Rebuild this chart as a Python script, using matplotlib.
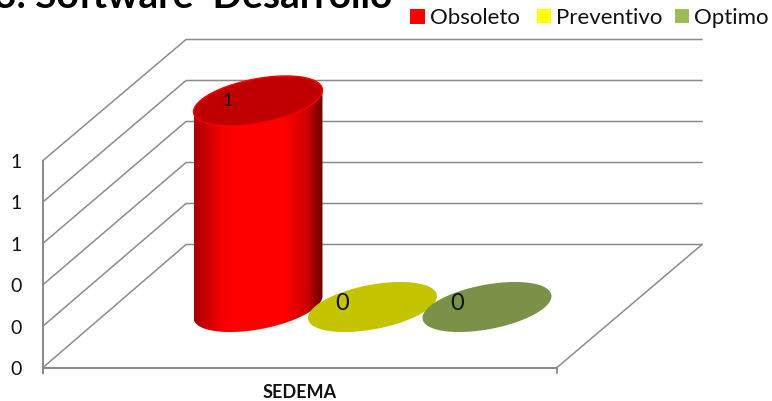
#!/usr/bin/env python3
import numpy as np
import matplotlib
matplotlib.use('Agg')
import matplotlib.pyplot as plt
from matplotlib.colors import LinearSegmentedColormap
from matplotlib.patches import Polygon, Rectangle

plt.rcParams['font.family'] = ['Lato', 'DejaVu Sans']

title = '3. Software  Desarrollo'
category = 'SEDEMA'
series = ['Obsoleto', 'Preventivo', 'Optimo']
values = [1, 0, 0]
value_labels = ['1', '0', '0']
tick_values = [0, 0.2, 0.4, 0.6, 0.8, 1.0]
tick_labels = ['0', '0', '0', '1', '1', '1']
colors = ['#ff0000', '#ffff00', '#9bbb59']
top_colors = ['#c00000', '#c4c400', '#7a9247']

# 3d frame, in pixels of the picture
x0, y0 = 43, 368.5
x_front = 557
x_back, x_right = 186, 702
y_back = 245.5
unit = 207      # pixels for value 1 on the front edge
unit_back = 205
bar_x = [258, 372.5, 487]
bar_y = 308
bar_unit = 206
a, b, theta = 65.5, 22.2, np.radians(10.8)
grid = '#8c8c8c'


def val_y(v):
    return y0 - v * unit


def ellipse(cx, cy, t):
    ex = a * np.cos(t)
    ey = b * np.sin(t)
    return (cx + ex * np.cos(theta) + ey * np.sin(theta),
            cy - ex * np.sin(theta) + ey * np.cos(theta))


fig = plt.figure(figsize=(7.72, 4.02), dpi=100)
ax = fig.add_axes([0, 0, 1, 1])

for v in tick_values:
    yb = y_back - v * unit_back
    ax.plot([x0, x_back, x_right], [val_y(v), yb, yb], color=grid, lw=1.1, zorder=1)
ax.plot([x_front, x_right], [y0, y_back], color=grid, lw=1.1, zorder=1)
ax.plot([x0, x0], [val_y(1), y0 + 5], color=grid, lw=1.5, zorder=2)
ax.plot([x0, x_front], [y0, y0], color=grid, lw=1.5, zorder=2)
ax.plot([x_front, x_front], [y0, y0 + 5], color=grid, lw=1.3, zorder=2)

for v, lab in zip(tick_values, tick_labels):
    ax.text(16.5, val_y(v) + 1, lab, ha='center', va='center', fontsize=14, color='#111111')

t = np.linspace(0, 2 * np.pi, 200)
red_cmap = LinearSegmentedColormap.from_list(
    'cyl', [(0, '#a80000'), (0.2, '#f00000'), (0.3, '#ff0000'), (0.7, '#ff0000'),
            (0.88, '#cc0000'), (1, '#6a0000')])

for i, v in enumerate(values):
    cx = bar_x[i]
    h = v * bar_unit
    if v > 0:
        # side of the cylinder
        ex, ey = ellipse(cx, bar_y, t)
        left = ex.min()
        right = ex.max()
        k = np.argmin(ex)
        m = np.argmax(ex)
        # lower half of base then upper half of top
        order = np.roll(np.arange(len(t)), -m)
        n = (k - m) % len(t)
        low = order[:n + 1]
        up = np.roll(np.arange(len(t)), -k)[:len(t) - n]
        px = np.r_[ex[low], ex[up]]
        py = np.r_[ey[low], ey[up] - h]
        clip = Polygon(np.c_[px, py], closed=True, transform=ax.transData, fc='none', ec='none')
        ax.add_patch(clip)
        im = ax.imshow(np.linspace(0, 1, 256).reshape(1, -1), cmap=red_cmap,
                       extent=[left, right, bar_y + 40, bar_y - h - 40],
                       aspect='auto', zorder=3)
        im.set_clip_path(clip)
    ex, ey = ellipse(cx, bar_y - h, t)
    ax.fill(ex, ey, color=top_colors[i], lw=0, zorder=4)
    if v > 0:
        ax.plot(ex, ey, color=colors[i], lw=1.0, zorder=5)

ax.text(228, 101, value_labels[0], ha='center', va='center', fontsize=13, color='#111111', zorder=6)
ax.text(342, 304, value_labels[1], ha='center', va='center', fontsize=17, color='#111111', zorder=6)
ax.text(457, 304, value_labels[2], ha='center', va='center', fontsize=17, color='#111111', zorder=6)

ax.text(300, 393, category, ha='center', va='center', fontsize=13, fontweight='bold', color='#111111')

leg_x = [410, 537, 675]
leg_size = [15, 14, 14]
for i, s in enumerate(series):
    ax.add_patch(Rectangle((leg_x[i], 10), leg_size[i], leg_size[i], fc=colors[i], ec='none'))
    ax.text(leg_x[i] + leg_size[i] + 5, 18, s, ha='left', va='center', fontsize=16, color='#111111')

ax.text(-6, 8.5, title, ha='left', va='baseline', fontsize=28, fontweight='bold', color='black')

ax.set_xlim(0, 772)
ax.set_ylim(402, 0)
ax.axis('off')
fig.savefig('out.png', dpi=100)
